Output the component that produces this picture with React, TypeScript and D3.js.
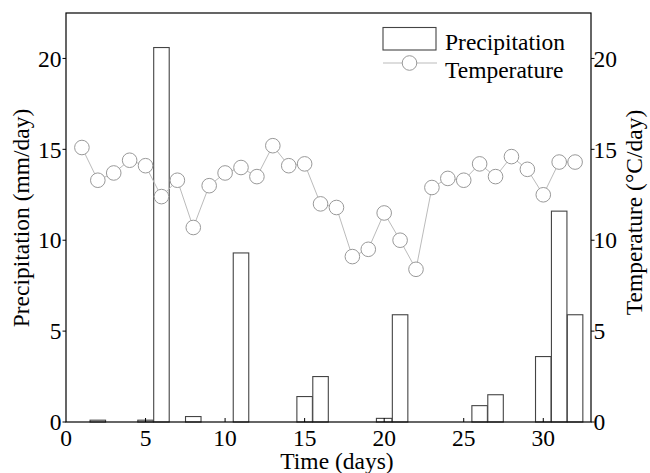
import React from "react";
import * as d3 from "d3";

const precipDays = [2, 5, 6, 8, 11, 15, 16, 20, 21, 26, 27, 30, 31, 32];
const precipValues = [0.1, 0.1, 20.6, 0.3, 9.3, 1.4, 2.5, 0.2, 5.9, 0.9, 1.5, 3.6, 11.6, 5.9];

const tempDays = [1,2,3,4,5,6,7,8,9,10,11,12,13,14,15,16,17,18,19,20,21,22,23,24,25,26,27,28,29,30,31,32];
const tempValues = [15.1,13.3,13.7,14.4,14.1,12.4,13.3,10.7,13.0,13.7,14.0,13.5,15.2,14.1,14.2,12.0,11.8,9.1,9.5,11.5,10.0,8.4,12.9,13.4,13.3,14.2,13.5,14.6,13.9,12.5,14.3,14.3];

const xTicks = [0, 5, 10, 15, 20, 25, 30];
const yTicks = [0, 5, 10, 15, 20];

const W = 650, H = 473;
const left = 66, right = 591, top = 13, bottom = 422;
const FONT = "Liberation Serif, DejaVu Serif, serif";
const FS = 23.5;

export default function App() {
  const x = d3.scaleLinear().domain([0, 33]).range([left, right]);
  const yL = d3.scaleLinear().domain([0, 22.5]).range([bottom, top]);
  const yR = d3.scaleLinear().domain([0, 22.5]).range([bottom, top]);
  const bw = x(1) - x(0) - 0.4;
  const line = d3.line<number>().x((_, i) => x(tempDays[i])).y((d) => yR(d));
  const ts: React.CSSProperties = { fontFamily: FONT, fontSize: FS };

  return (
    <svg width={W} height={H} style={{ position: "absolute", left: 0, top: 0, background: "#fff", fontFamily: FONT }}>
      {/* bars */}
      {precipValues.map((v, i) => (
        <rect key={"b" + i} x={x(precipDays[i]) - bw / 2} y={yL(v)} width={bw} height={yL(0) - yL(v)}
          fill="white" stroke="#444" strokeWidth={1.1} />
      ))}
      {/* temperature line */}
      <path d={line(tempValues) || ""} fill="none" stroke="#bbb" strokeWidth={1} />
      {tempValues.map((v, i) => (
        <circle key={"c" + i} cx={x(tempDays[i])} cy={yR(v)} r={7.3} fill="white" stroke="#999" strokeWidth={1} />
      ))}
      {/* frame */}
      <rect x={left} y={top} width={right - left} height={bottom - top} fill="none" stroke="#000" strokeWidth={1.2} />
      {/* x ticks */}
      {xTicks.map((t) => (
        <g key={"x" + t}>
          {t !== 0 && <line x1={x(t)} x2={x(t)} y1={bottom} y2={bottom - 4} stroke="#000" />}
          <text x={x(t)} y={446} textAnchor="middle" style={ts}>{t}</text>
        </g>
      ))}
      {/* left ticks */}
      {yTicks.map((t) => (
        <g key={"l" + t}>
          <line x1={left - 3.5} x2={left} y1={yL(t)} y2={yL(t)} stroke="#000" />
          <text x={left - 4.5} y={yL(t)} dy="0.35em" textAnchor="end" style={ts}>{t}</text>
        </g>
      ))}
      {/* right ticks */}
      {yTicks.map((t) => (
        <g key={"r" + t}>
          <line x1={right} x2={right + 3.5} y1={yR(t)} y2={yR(t)} stroke="#000" />
          <text x={right + 2.5} y={yR(t)} dy="0.35em" textAnchor="start" style={ts}>{t}</text>
        </g>
      ))}
      {/* axis titles */}
      <text x={337} y={469} textAnchor="middle" style={ts}>Time (days)</text>
      <text transform={`translate(29,218) rotate(-90)`} textAnchor="middle" style={ts}>Precipitation (mm/day)</text>
      <text transform={`translate(642,212.5) rotate(-90)`} textAnchor="middle" style={ts}>Temperature (°C/day)</text>
      {/* legend */}
      <rect x={383} y={27.5} width={53} height={22.5} fill="white" stroke="#444" strokeWidth={1.1} />
      <text x={445} y={50} style={ts}>Precipitation</text>
      <line x1={383} x2={437} y1={63} y2={63} stroke="#bbb" />
      <circle cx={409.5} cy={63} r={7.3} fill="white" stroke="#999" />
      <text x={445} y={78} style={ts}>Temperature</text>
    </svg>
  );
}
